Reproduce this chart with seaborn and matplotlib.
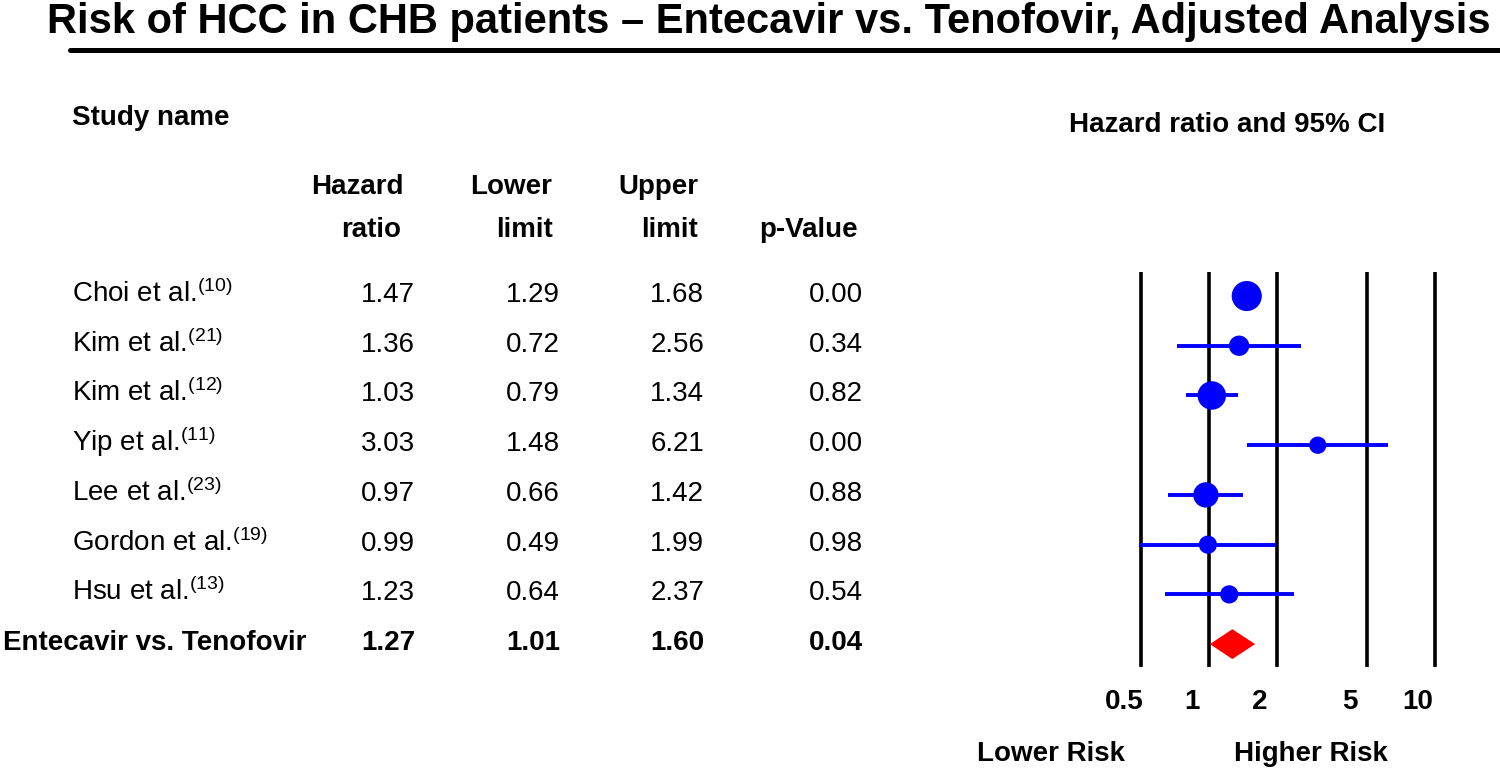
import numpy as np
import pandas as pd
import matplotlib
matplotlib.use("Agg")
import matplotlib.pyplot as plt
import matplotlib.transforms as mtransforms
from matplotlib.lines import Line2D
from matplotlib.ticker import NullLocator
import seaborn as sns

# Study data
studies = ["Choi et al.", "Kim et al.", "Kim et al.", "Yip et al.", "Lee et al.", "Gordon et al.", "Hsu et al."]
refs = ["10", "21", "12", "11", "23", "19", "13"]
hazard_ratio = [1.47, 1.36, 1.03, 3.03, 0.97, 0.99, 1.23]
lower_limit = [1.29, 0.72, 0.79, 1.48, 0.66, 0.49, 0.64]
upper_limit = [1.68, 2.56, 1.34, 6.21, 1.42, 1.99, 2.37]
p_value = [0.00, 0.34, 0.82, 0.00, 0.88, 0.98, 0.54]
weight = [24.5, 11.2, 21.9, 8.1, 17.4, 9.0, 9.0]  # relative weight

summary_label = "Entecavir vs. Tenofovir"
summary_hr = 1.27
summary_lo = 1.01
summary_hi = 1.60
summary_p = 0.04

axis_ticks = [0.5, 1, 2, 5, 10]
axis_labels = ["0.5", "1", "2", "5", "10"]

title = "Risk of HCC in CHB patients \u2013 Entecavir vs. Tenofovir, Adjusted Analysis"

sns.set_theme(style="white")
plt.rcParams["font.family"] = ["Liberation Sans", "DejaVu Sans"]
plt.rcParams["mathtext.default"] = "regular"
plt.rcParams["text.color"] = "black"
plt.rcParams["xtick.color"] = "black"

df = pd.DataFrame({
    "study": studies, "ref": refs, "hr": hazard_ratio,
    "lower": lower_limit, "upper": upper_limit, "p": p_value, "weight": weight,
})
df["row"] = np.arange(len(df))
summary_row = len(df)

W, H = 1500, 772
fig = plt.figure(figsize=(15, 7.72), dpi=100)


def fx(x):
    return x / W


def fy(y):
    return 1 - y / H


# forest plot panel
ax = fig.add_axes([fx(1100), fy(667), fx(1480) - fx(1100), fy(272) - fy(667)])
for t in axis_ticks:
    ax.axvline(t, color="black", lw=2.6, zorder=1)
ax.hlines(df["row"], df["lower"], df["upper"], color="blue", lw=2.8, zorder=2)
sns.scatterplot(data=df, x="hr", y="row", size="weight", sizes=(0, 470),
                size_norm=(0, max(weight)), color="blue", edgecolor="none",
                legend=False, ax=ax, zorder=3)
ax.fill([summary_lo, summary_hr, summary_hi, summary_hr],
        [summary_row, summary_row - 0.3, summary_row, summary_row + 0.3],
        color="red", lw=0, zorder=3)

ax.set_xscale("log")
ax.set_xlim(0.33, 15.8)
ax.set_ylim(7.46, -0.483)
ax.set_xticks(axis_ticks)
ax.set_xticklabels(axis_labels, fontsize=20, fontweight="bold", color="black")
ax.xaxis.set_minor_locator(NullLocator())
ax.tick_params(axis="x", length=0, pad=16)
ax.set_yticks([])
ax.set_xlabel("")
ax.set_ylabel("")
for s in ax.spines.values():
    s.set_visible(False)
ax.patch.set_alpha(0)
shift = mtransforms.ScaledTranslation(-0.17, 0, fig.dpi_scale_trans)
for lbl in ax.get_xticklabels():
    lbl.set_transform(lbl.get_transform() + shift)

# table on the left, rows aligned with the forest plot
row_tr = mtransforms.blended_transform_factory(fig.transFigure, ax.transData)
col_hr, col_lo, col_hi, col_p = 415, 560, 704, 863
for _, r in df.iterrows():
    yb = r["row"] + 0.12
    fig.text(fx(72), yb, f"{r['study']}$^{{({r['ref']})}}$", transform=row_tr,
             fontsize=20, ha="left", va="baseline")
    for col, v in [(col_hr, r["hr"]), (col_lo, r["lower"]), (col_hi, r["upper"]), (col_p, r["p"])]:
        fig.text(fx(col), yb, f"{v:.2f}", transform=row_tr, fontsize=20, ha="right", va="baseline")

yb = summary_row + 0.12
fig.text(fx(3), yb, summary_label, transform=row_tr, fontsize=20, fontweight="bold",
         ha="left", va="baseline")
for col, v in [(col_hr, summary_hr), (col_lo, summary_lo), (col_hi, summary_hi), (col_p, summary_p)]:
    fig.text(fx(col), yb, f"{v:.2f}", transform=row_tr, fontsize=20, fontweight="bold",
             ha="right", va="baseline")

# headers
hdr = dict(fontsize=20, fontweight="bold", va="baseline")
fig.text(fx(72), fy(125), "Study name", ha="left", **hdr)
fig.text(fx(404), fy(194), "Hazard", ha="right", **hdr)
fig.text(fx(401), fy(237), "ratio", ha="right", **hdr)
fig.text(fx(552), fy(194), "Lower", ha="right", **hdr)
fig.text(fx(553), fy(237), "limit", ha="right", **hdr)
fig.text(fx(698), fy(194), "Upper", ha="right", **hdr)
fig.text(fx(698), fy(237), "limit", ha="right", **hdr)
fig.text(fx(858), fy(237), "p-Value", ha="right", **hdr)
fig.text(fx(1227), fy(132), "Hazard ratio and 95% CI", ha="center", **hdr)
fig.text(fx(1051), fy(761), "Lower Risk", ha="center", **hdr)
fig.text(fx(1311), fy(761), "Higher Risk", ha="center", **hdr)

# title, scaled to span the same width as the original
ttl = fig.text(fx(47), fy(33), title, fontsize=30, fontweight="bold", ha="left", va="baseline",
               family=["Liberation Sans Narrow", "Liberation Sans", "DejaVu Sans"])
renderer = fig.canvas.get_renderer()
w = ttl.get_window_extent(renderer).width
ttl.set_fontsize(30 * 1443 / w)
fig.add_artist(Line2D([fx(70), fx(1500)], [fy(50), fy(50)], color="black", lw=3.6,
                     transform=fig.transFigure))

fig.savefig("out.png", dpi=100)
